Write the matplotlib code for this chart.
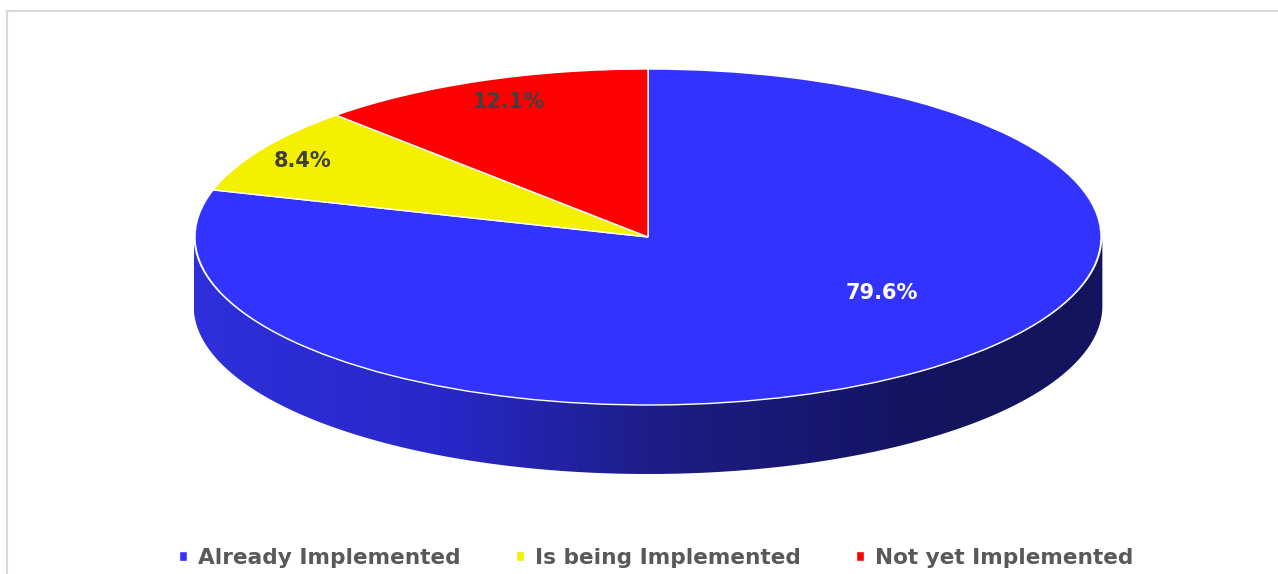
import numpy as np
import matplotlib
matplotlib.use("Agg")
import matplotlib.pyplot as plt
from matplotlib.colors import LinearSegmentedColormap
from matplotlib.lines import Line2D
from matplotlib.patches import Polygon

labels = ["Already Implemented", "Is being Implemented", "Not yet Implemented"]
values = [79.6, 8.4, 12.1]
colors = ["#3333ff", "#f5f000", "#ff0000"]

W, H = 1278, 574
CX, CY, RX, RY = 648, 237, 453, 168
DEPTH = 69 / RY


def ux(px):
    return (px - CX) / RX


def uy(py):
    return (CY - py) / RY


plt.rcParams["font.family"] = ["DejaVu Sans"]
fig = plt.figure(figsize=(W / 100, H / 100), dpi=100, facecolor="white")
ax = fig.add_axes([0, 0, 1, 1])

wedges, texts, autotexts = ax.pie(
    values, colors=colors, startangle=90, counterclock=False, radius=1,
    autopct="%.1f%%", wedgeprops={"edgecolor": "white", "linewidth": 1, "zorder": 3},
    textprops={"fontsize": 15, "fontweight": "bold", "zorder": 4},
)
ax.set_aspect("auto")
ax.axis("off")

# the values add up to 100.1, so show them as read and not renormalised
for at, v in zip(autotexts, values):
    at.set_text("%.1f%%" % v)

autotexts[0].set_position((ux(882), uy(293)))
autotexts[0].set_color("white")
autotexts[1].set_position((ux(303), uy(161)))
autotexts[1].set_color("#404040")
autotexts[2].set_position((ux(509), uy(102)))
autotexts[2].set_color("#404040")

# side of the cylinder, horizontal gradient clipped to the band
t = np.linspace(np.pi, 2 * np.pi, 200)
upper = np.column_stack([1.003 * np.cos(t), np.sin(t)])
lower = np.column_stack([1.003 * np.cos(t[::-1]), np.sin(t[::-1]) - DEPTH])
band = Polygon(np.vstack([upper, lower]), closed=True, transform=ax.transData,
               facecolor="none", edgecolor="none")
ax.add_patch(band)
side_cmap = LinearSegmentedColormap.from_list(
    "side", [(0, "#2f2fdc"), (0.27, "#2828c8"), (0.53, "#1c1c82"), (0.82, "#12145e"), (1, "#12145e")])
img = ax.imshow(np.linspace(0, 1, 256).reshape(1, -1), cmap=side_cmap, aspect="auto",
                extent=(-1.003, 1.003, -1 - DEPTH, 0), zorder=2)
img.set_clip_path(band)
ax.set_xlim(ux(0), ux(W))
ax.set_ylim(uy(H), uy(0))

# chart frame
fig.add_artist(Line2D([6.5 / W, 6.5 / W], [0, 1 - 10.5 / H], color="#d9d9d9", lw=1.5))
fig.add_artist(Line2D([6.5 / W, 1], [1 - 10.5 / H, 1 - 10.5 / H], color="#d9d9d9", lw=1.5))

fig.legend(wedges, labels, loc="center", bbox_to_anchor=(656 / W, 1 - 558 / H), ncol=3,
           frameon=False, labelcolor="#595959", handlelength=0.37, handleheight=0.37,
           handletextpad=0.5, columnspacing=2.55, prop={"size": 15.6, "weight": "bold"})

fig.savefig("out.png", dpi=100)
